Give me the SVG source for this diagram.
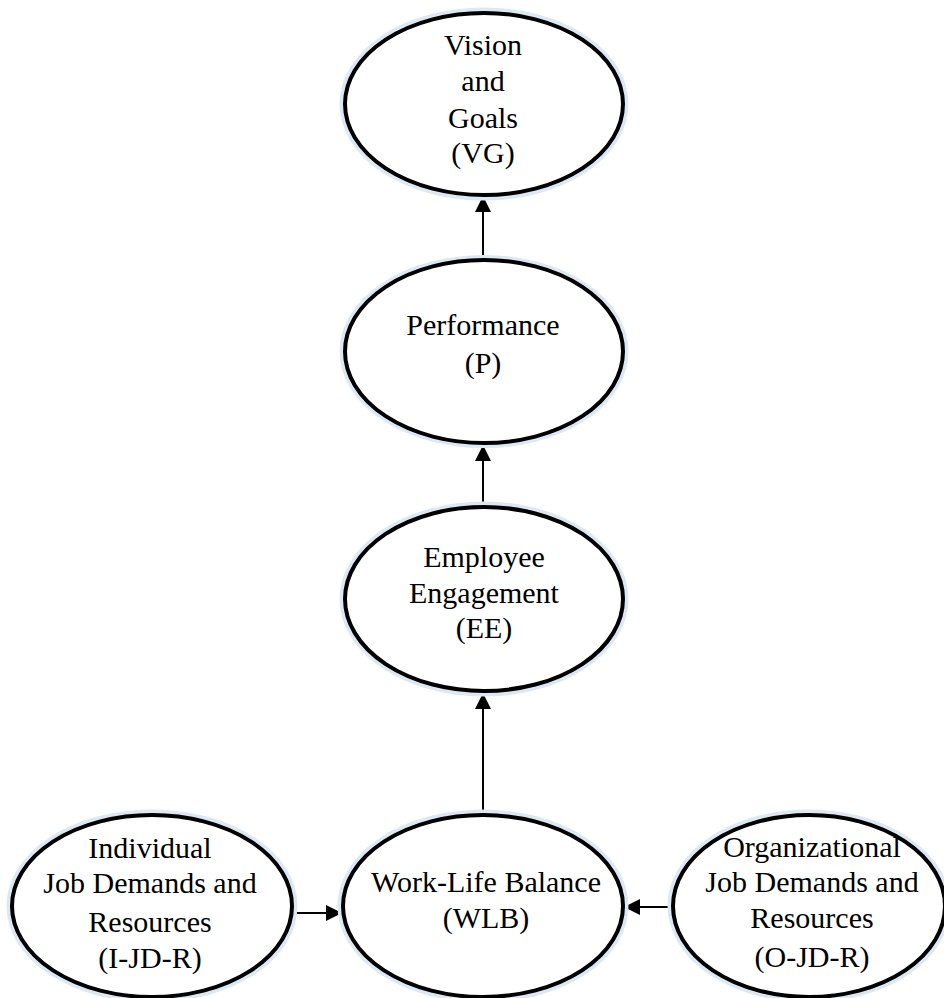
<svg xmlns="http://www.w3.org/2000/svg" width="944" height="998" viewBox="0 0 944 998">
<style>
.glow{fill:none;stroke:#dce8f4;stroke-width:9;}
.node{fill:#fff;stroke:#000;stroke-width:4;}
.lbl{font-family:"Liberation Serif","Times New Roman",serif;font-size:30px;fill:#000;text-anchor:middle;}
.conn{stroke:#000;stroke-width:2;fill:none;marker-end:url(#ah);}
</style>
<defs>
<marker id="ah" markerUnits="userSpaceOnUse" markerWidth="16" markerHeight="16" refX="16" refY="8" orient="auto">
<path d="M0,0 L16,8 L0,16 Z" fill="#000"/>
</marker>
</defs>
<rect width="944" height="998" fill="#fff"/>
<g id="connectors">
<line class="conn" x1="483" y1="260" x2="483" y2="196"/>
<line class="conn" x1="483" y1="507" x2="483" y2="445"/>
<line class="conn" x1="483" y1="815" x2="483" y2="693"/>
<line class="conn" x1="293" y1="913" x2="342" y2="913"/>
<line class="conn" x1="673" y1="907" x2="624" y2="907"/>
</g>
<g id="vg">
<ellipse class="glow" cx="484" cy="104" rx="140" ry="92"/>
<ellipse class="node" cx="484" cy="104" rx="139" ry="91"/>
<text class="lbl" x="483" y="55">Vision</text>
<text class="lbl" x="483" y="91">and</text>
<text class="lbl" x="483" y="128">Goals</text>
<text class="lbl" x="483" y="163">(VG)</text>
</g>
<g id="p">
<ellipse class="glow" cx="484" cy="351.5" rx="140" ry="92"/>
<ellipse class="node" cx="484" cy="351.5" rx="139" ry="91.5"/>
<text class="lbl" x="483" y="335">Performance</text>
<text class="lbl" x="483" y="373">(P)</text>
</g>
<g id="ee">
<ellipse class="glow" cx="484" cy="599" rx="140" ry="93"/>
<ellipse class="node" cx="484" cy="599" rx="139" ry="92"/>
<text class="lbl" x="484" y="567">Employee</text>
<text class="lbl" x="484" y="603">Engagement</text>
<text class="lbl" x="484" y="638">(EE)</text>
</g>
<g id="wlb">
<ellipse class="glow" cx="483" cy="906" rx="141" ry="92"/>
<ellipse class="node" cx="483" cy="906" rx="140" ry="91"/>
<text class="lbl" x="486" y="892">Work-Life Balance</text>
<text class="lbl" x="486" y="928">(WLB)</text>
</g>
<g id="ijdr">
<ellipse class="glow" cx="152" cy="906" rx="141" ry="92"/>
<ellipse class="node" cx="152" cy="906" rx="140" ry="91"/>
<text class="lbl" x="150" y="858">Individual</text>
<text class="lbl" x="150" y="893">Job Demands and</text>
<text class="lbl" x="150" y="932">Resources</text>
<text class="lbl" x="150" y="968">(I-JD-R)</text>
</g>
<g id="ojdr">
<ellipse class="glow" cx="809" cy="906" rx="137" ry="92"/>
<ellipse class="node" cx="809" cy="906" rx="136" ry="91"/>
<text class="lbl" x="812" y="857">Organizational</text>
<text class="lbl" x="812" y="892">Job Demands and</text>
<text class="lbl" x="812" y="928">Resources</text>
<text class="lbl" x="812" y="967">(O-JD-R)</text>
</g>
</svg>
